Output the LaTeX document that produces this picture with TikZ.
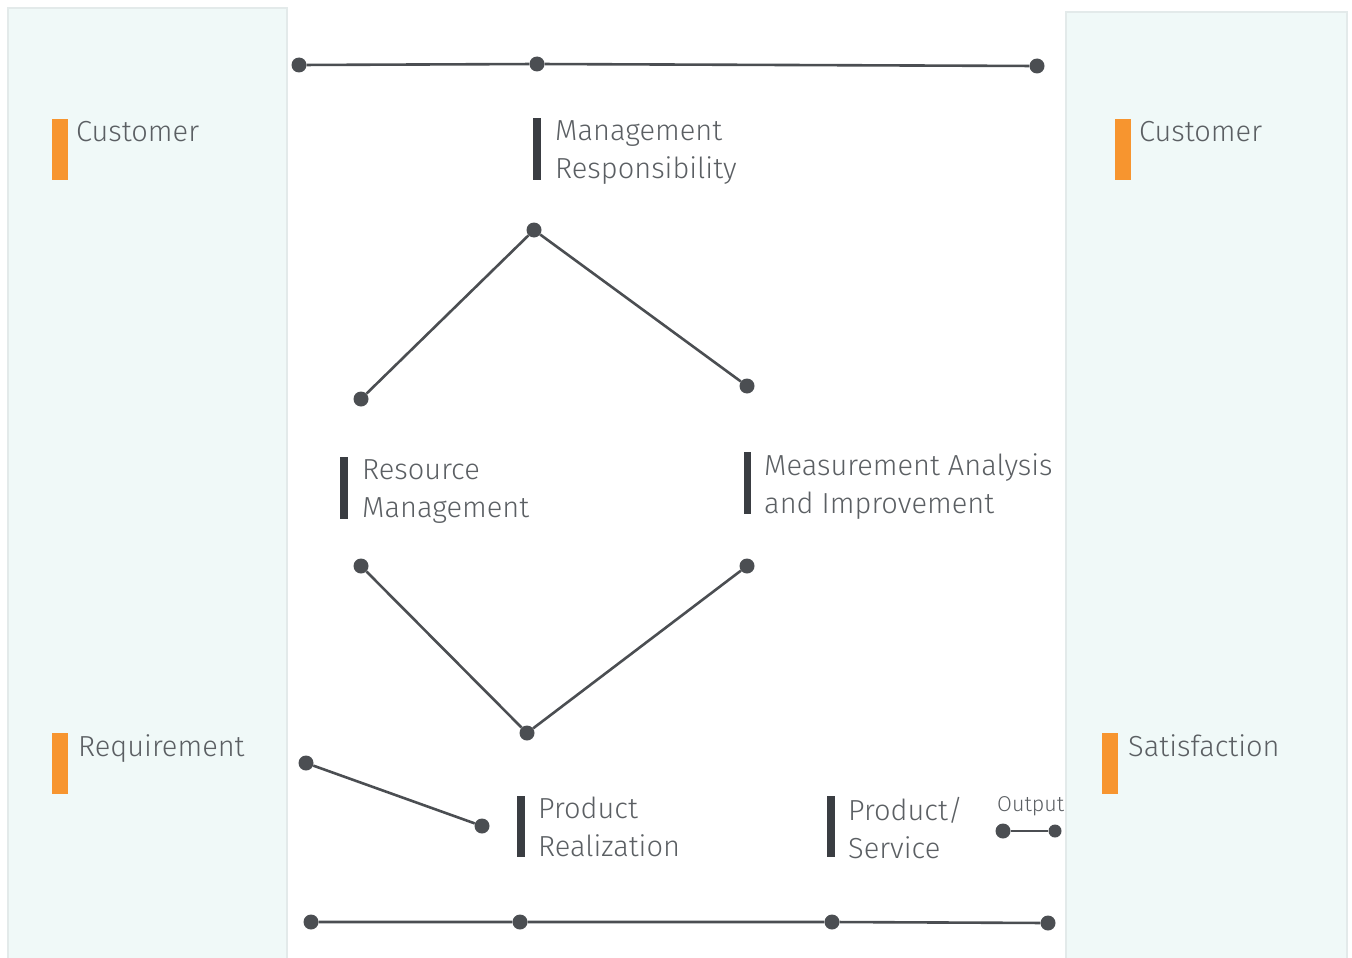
\documentclass[tikz,border=0pt]{standalone}
\usepackage{fontspec}
\setmainfont{Fira Sans Light}
\usepackage{xcolor}
\definecolor{panelfill}{HTML}{F0F9F8}
\definecolor{paneledge}{HTML}{E3EAEA}
\definecolor{linegray}{HTML}{4B4E52}
\definecolor{textgray}{HTML}{5B5F63}
\definecolor{bardark}{HTML}{3A3D42}
\definecolor{barorange}{HTML}{F7952F}

\begin{document}
\begin{tikzpicture}[x=1pt,y=-1pt,
    dot/.style={circle,fill=linegray,inner sep=0,minimum size=15pt},
    link/.style={draw=linegray,line width=2.6pt},
    txt/.style={anchor=north west,inner sep=0,text=textgray,align=left,font=\fontsize{29}{38}\selectfont},
    panel/.style={fill=panelfill,draw=paneledge,line width=2pt}]
    \useasboundingbox (0,0) rectangle (1352,958);

    % side panels
    \draw[panel] (8,8) rectangle (287,962);
    \draw[panel] (1066,12) rectangle (1347,962);

    \fill[barorange] (52,119) rectangle (68,180);
    \node[txt] (custin) at (76,121) {Customer};
    \fill[barorange] (52,733) rectangle (68,794);
    \node[txt] (req) at (78,734) {Requirement};
    \fill[barorange] (1115,119) rectangle (1131,180);
    \node[txt] (custout) at (1139,121) {Customer};
    \fill[barorange] (1102,733) rectangle (1118,794);
    \node[txt] (satis) at (1128,734) {Satisfaction};

    % process labels
    \fill[bardark] (533,118) rectangle (541,180);
    \node[txt] (mgmt) at (555,120) {Management\\Responsibility};
    \fill[bardark] (340,457) rectangle (348,519);
    \node[txt] (res) at (362,459) {Resource\\Management};
    \fill[bardark] (744,452) rectangle (751,514);
    \node[txt] (meas) at (764,453) {Measurement Analysis\\and Improvement};
    \fill[bardark] (517,796) rectangle (525,857);
    \node[txt] (real) at (538,797) {Product\\Realization};
    \fill[bardark] (827,796) rectangle (835,857);
    \node[txt] (prod) at (848,797) {Product/\\Service};
    \node[txt,font=\fontsize{21.5}{26}\selectfont] (out) at (997,796) {Output};

    % dots
    \node[dot] (t1) at (299,65) {};
    \node[dot] (t2) at (537,64) {};
    \node[dot] (t3) at (1037,66) {};
    \node[dot] (d1) at (534,230) {};
    \node[dot] (d2) at (361,399) {};
    \node[dot] (d3) at (747,386) {};
    \node[dot] (d4) at (361,566) {};
    \node[dot] (d5) at (747,566) {};
    \node[dot] (d6) at (527,733) {};
    \node[dot] (r1) at (306,763) {};
    \node[dot] (r2) at (482,826) {};
    \node[dot] (o1) at (1003,831) {};
    \node[dot,minimum size=13pt] (o2) at (1055,831) {};
    \node[dot] (b1) at (311,922) {};
    \node[dot] (b2) at (520,922) {};
    \node[dot] (b3) at (832,922) {};
    \node[dot] (b4) at (1048,923) {};

    % connectors
    \draw[link] (t1) -- (t2) -- (t3);
    \draw[link] (d2) -- (d1) -- (d3);
    \draw[link] (d4) -- (d6) -- (d5);
    \draw[link] (r1) -- (r2);
    \draw[link] (o1) -- (o2);
    \draw[link] (b1) -- (b2) -- (b3) -- (b4);
\end{tikzpicture}
\end{document}
